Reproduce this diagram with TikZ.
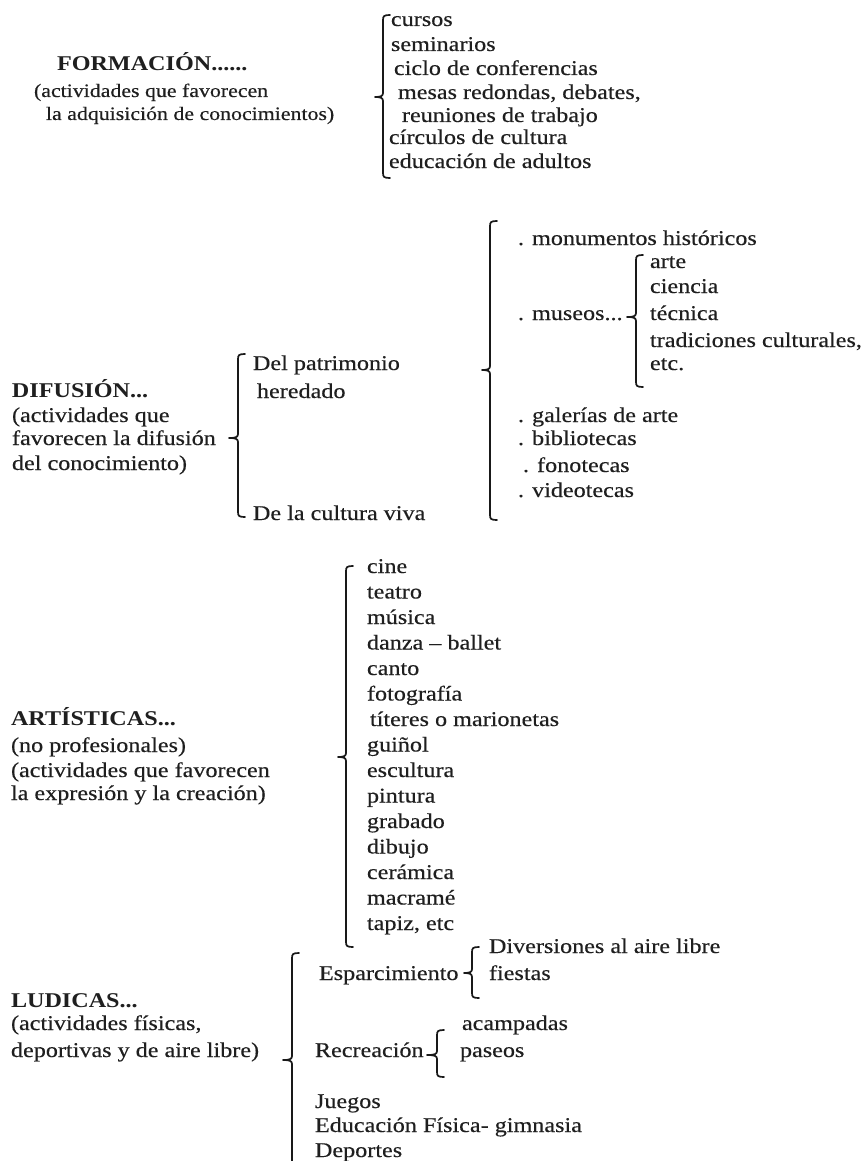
\documentclass[tikz,border=0pt]{standalone}
\usepackage{fontspec}
\setmainfont[FakeStretch=1.15, UprightFeatures={FakeBold=0.35}]{Liberation Serif}
\tikzset{
  txt/.style={anchor=base west, inner sep=0pt, outer sep=0pt, font=\fontsize{21}{24}\selectfont, text=black!88},
  smalltxt/.style={font=\fontsize{19}{22}\selectfont},
  hd/.style={font=\fontsize{21}{24}\selectfont\bfseries},
  brc/.style={line width=1.7pt, draw=black!90, line cap=round, line join=round}
}
\newcommand{\tx}[5][]{\node[txt,#1] (#2) at (#3,#4) {#5};}
% curly brace: name, body x, top y, bottom y, tip y, tip depth
\newcommand{\cbr}[6]{%
  \coordinate (#1t) at (#2+7,#3);
  \coordinate (#1m) at (#2-#6,#5);
  \coordinate (#1b) at (#2+7,#4);
  \draw[brc] (#1t) .. controls (#2+1,#3) and (#2,#3+1) .. (#2,#3+5)
     -- (#2,#5-4) .. controls (#2,#5-1) and (#2-2,#5) .. (#1m)
     .. controls (#2-2,#5) and (#2,#5+1) .. (#2,#5+4)
     -- (#2,#4-5) .. controls (#2,#4-1) and (#2+1,#4) .. (#1b);}
\begin{document}
\begin{tikzpicture}[x=1pt,y=-1pt]
\useasboundingbox (0,0) rectangle (864,1161);
\fill[white] (0,0) rectangle (864,1161);

% ---------------- FORMACION
\tx[hd]{f1}{57}{71}{FORMACIÓN......}
\tx[smalltxt]{f2}{34}{97}{(actividades que favorecen}
\tx[smalltxt]{f3}{46}{120}{la adquisición de conocimientos)}
\cbr{bF}{383}{15}{178}{97}{8}
\tx{fa}{391}{26}{cursos}
\tx{fb}{391}{51}{seminarios}
\tx{fc}{394}{75}{ciclo de conferencias}
\tx{fd}{398}{99}{mesas redondas, debates,}
\tx{fe}{402}{122}{reuniones de trabajo}
\tx{ff}{389}{144}{círculos de cultura}
\tx{fg}{389}{168}{educación de adultos}

% ---------------- DIFUSION
\tx[hd]{d1}{12}{397}{DIFUSIÓN...}
\tx{d2}{12}{422}{(actividades que}
\tx{d3}{12}{445}{favorecen la difusión}
\tx{d4}{12}{470}{del conocimiento)}
\cbr{bD}{238}{354}{517}{438}{9}
\tx{dp}{253}{370}{Del patrimonio}
\tx{dh}{257}{398}{heredado}
\tx{dv}{253}{520}{De la cultura viva}

\cbr{bP}{490}{221}{520}{370}{8}
\tx{p1}{518}{245}{. monumentos históricos}
\tx{p2}{518}{320}{. museos...}
\cbr{bM}{636}{255}{387}{317}{9}
\tx{m1}{650}{268}{arte}
\tx{m2}{650}{293}{ciencia}
\tx{m3}{650}{320}{técnica}
\tx{m4}{650}{347}{tradiciones culturales,}
\tx{m5}{650}{370}{etc.}
\tx{p3}{518}{422}{. galerías de arte}
\tx{p4}{518}{445}{. bibliotecas}
\tx{p5}{523}{472}{. fonotecas}
\tx{p6}{518}{497}{. videotecas}

% ---------------- ARTISTICAS
\tx[hd]{a1}{11}{725}{ARTÍSTICAS...}
\tx{a2}{11}{752}{(no profesionales)}
\tx{a3}{11}{777}{(actividades que favorecen}
\tx{a4}{11}{800}{la expresión y la creación)}
\cbr{bA}{346}{566}{947}{757}{8}
\tx{i1}{367}{573}{cine}
\tx{i2}{367}{598.5}{teatro}
\tx{i3}{367}{624}{música}
\tx{i4}{367}{649.5}{danza – ballet}
\tx{i5}{367}{675}{canto}
\tx{i6}{367}{700.5}{fotografía}
\tx{i7}{370}{726}{títeres o marionetas}
\tx{i8}{367}{751.5}{guiñol}
\tx{i9}{367}{777}{escultura}
\tx{i10}{367}{802.5}{pintura}
\tx{i11}{367}{828}{grabado}
\tx{i12}{367}{853.5}{dibujo}
\tx{i13}{367}{879}{cerámica}
\tx{i14}{367}{904.5}{macramé}
\tx{i15}{367}{930}{tapiz, etc}

% ---------------- LUDICAS
\tx[hd]{l1}{11}{1007}{LUDICAS...}
\tx{l2}{11}{1030}{(actividades físicas,}
\tx{l3}{11}{1057}{deportivas y de aire libre)}
\cbr{bL}{292}{953}{1166}{1060}{9}
\tx{e1}{319}{980}{Esparcimiento}
\cbr{bE}{472}{947}{998}{973}{8}
\tx{e2}{489}{953}{Diversiones al aire libre}
\tx{e3}{489}{980}{fiestas}
\tx{r1}{315}{1057}{Recreación}
\cbr{bR}{437}{1030}{1077}{1055}{10}
\tx{r2}{462}{1030}{acampadas}
\tx{r3}{460}{1057}{paseos}
\tx{j1}{315}{1108}{Juegos}
\tx{j2}{315}{1132}{Educación Física- gimnasia}
\tx{j3}{315}{1157}{Deportes}
\end{tikzpicture}
\end{document}
